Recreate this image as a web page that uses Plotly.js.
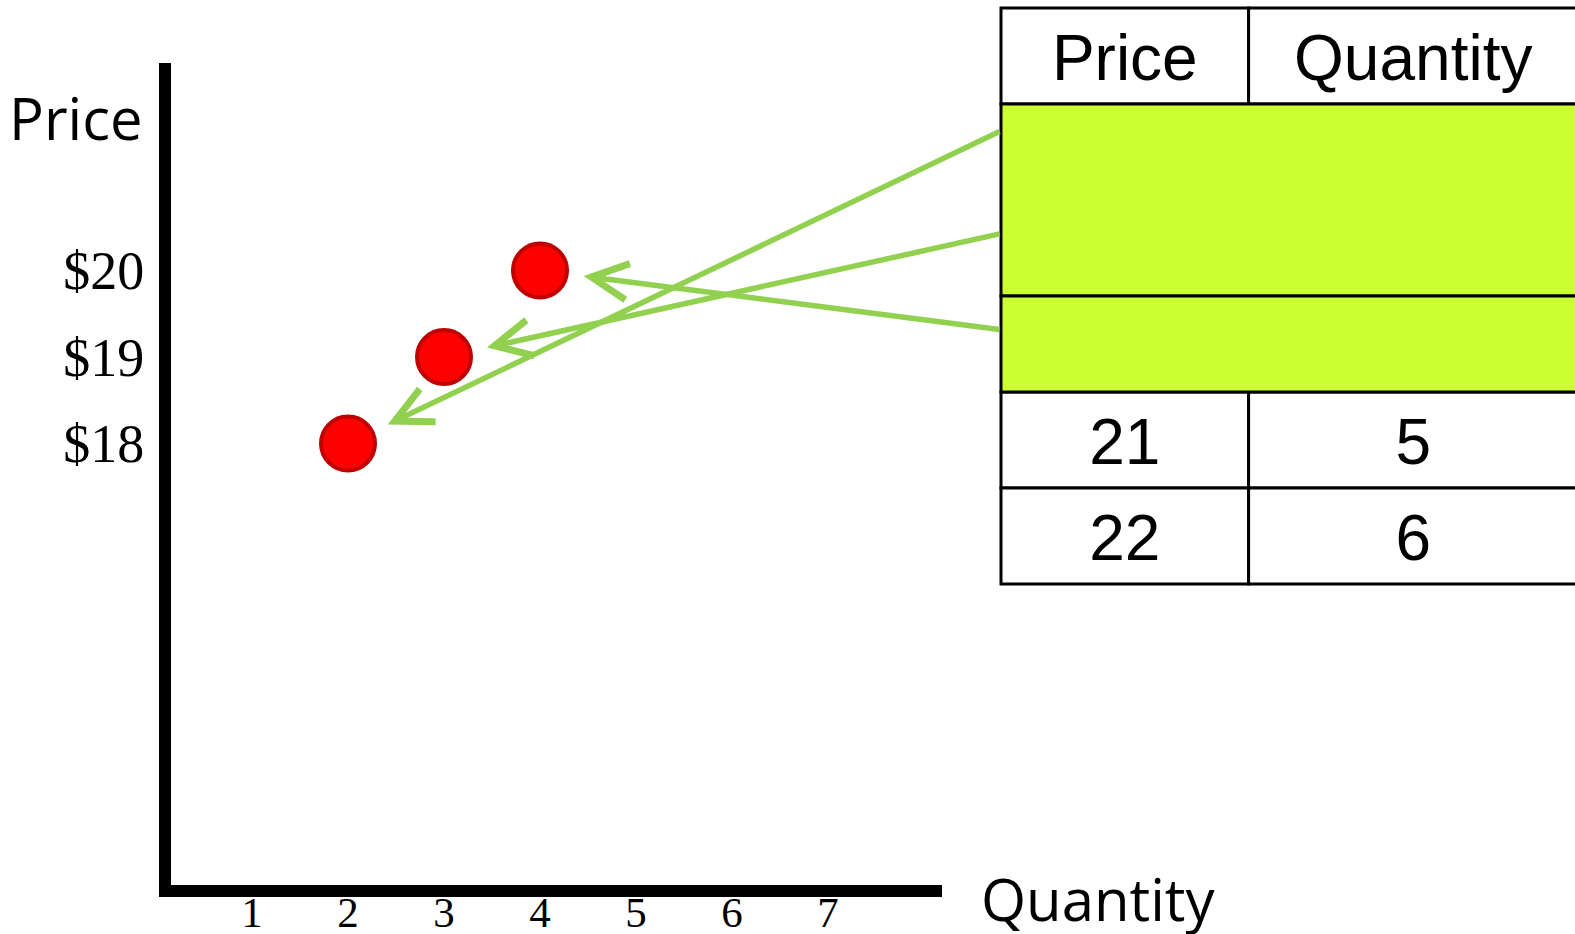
<!DOCTYPE html>
<html><head><meta charset="utf-8">
<script src="https://cdn.plot.ly/plotly-3.0.1.min.js"></script>
<style>html,body{margin:0;padding:0;background:#fff;overflow:hidden;} #chart{width:1575px;height:934px;}</style>
</head><body><div id="chart"></div>
<script>
// ---- data ----
const pointQuantity = [2, 3, 4];
const pointPrice = [18, 19, 20];
const xTickValues = [1, 2, 3, 4, 5, 6, 7];
const xTickLabels = ['1', '2', '3', '4', '5', '6', '7'];
const yTickValues = [18, 19, 20];
const yTickLabels = ['$18', '$19', '$20'];
const tableHeaders = ['Price', 'Quantity'];
const tablePrices = [21, 22];
const tableQuantities = [5, 6];
const xTitle = 'Quantity';
const yTitle = 'Price';

// ---- geometry (pixels) ----
const W = 1575, H = 934;
const PL = 171, PR = 942, PT = 63, PB = 885;
const MR = 0, MT = 0, MB = H - PB;
const paperW = W - PL - MR, paperH = H - MT - MB;
const X0 = 156, XU = 96;          // px of x=0, px per unit
const Y19 = 357, YU = 86.5;       // px of y=19, px per unit
const xInv = px => (px - X0) / XU;
const yInv = py => 19 + (Y19 - py) / YU;
// table geometry
const TL = 1001, COLW = 247.6, TT = 8, ROWH = 96;
const T2L = 990, T2B = 600;
const colEdges = [0, 1, 2.34];
const colCenters = [0.5, 1.665];
const textDrop = 0.085;
const hiddenRows = pointPrice.length;
const greenBlocks = [[1, 3], [3, 4]];
const arrowRows = [1.28, 2.35, 3.35];

const green = '#92D050';
const lime = '#CCFF33';

const shapes = [];
function cellRect(c, r0, r1, fill) {
  shapes.push({type: 'rect', xref: 'x2', yref: 'y2', layer: 'below',
    x0: colEdges[c], x1: colEdges[c + 1], y0: r0, y1: r1,
    fillcolor: fill, line: {color: '#000', width: 3}});
}
for (let c = 0; c < tableHeaders.length; c++) cellRect(c, 0, 1, '#fff');
for (let i = 0; i < tablePrices.length; i++) {
  const r = 1 + hiddenRows + i;
  cellRect(0, r, r + 1, '#fff');
  cellRect(1, r, r + 1, '#fff');
}
greenBlocks.forEach(b => shapes.push({type: 'rect', xref: 'x2', yref: 'y2', layer: 'below',
  x0: colEdges[0], x1: colEdges[2], y0: b[0], y1: b[1],
  fillcolor: lime, line: {color: '#000', width: 3}}));

const tx = [], ty = [], tt = [];
tableHeaders.forEach((h, c) => { tx.push(colCenters[c]); ty.push(0.5 + textDrop); tt.push(h); });
tablePrices.forEach((p, i) => {
  const r = 1 + hiddenRows + i + 0.5 + textDrop;
  tx.push(colCenters[0]); ty.push(r); tt.push(String(p));
  tx.push(colCenters[1]); ty.push(r); tt.push(String(tableQuantities[i]));
});

const traces = [
  {type: 'scatter', mode: 'markers', x: pointQuantity, y: pointPrice, xaxis: 'x', yaxis: 'y',
   cliponaxis: false, hoverinfo: 'skip',
   marker: {size: 54, color: '#FF0000', line: {color: '#C00000', width: 4}}},
  {type: 'scatter', mode: 'text', x: tx, y: ty, text: tt, xaxis: 'x2', yaxis: 'y2',
   textposition: 'middle center', cliponaxis: false, hoverinfo: 'skip',
   textfont: {family: 'Liberation Sans, Arial, sans-serif', size: 64, color: '#000'}}
];

const annotations = pointQuantity.map((q, i) => ({
  x: q, y: pointPrice[i], xref: 'x', yref: 'y', axref: 'x', ayref: 'y',
  ax: xInv(TL), ay: yInv(TT + ROWH * arrowRows[i]),
  text: '', showarrow: true, arrowhead: 5, arrowsize: 1.3, arrowwidth: 5.5,
  arrowcolor: green, standoff: 44
}));
annotations.push({text: yTitle, xref: 'paper', yref: 'paper', showarrow: false,
  x: (145 - PL) / paperW, y: (PB - 118) / paperH, xanchor: 'right', yanchor: 'middle',
  font: {family: 'Open Sans, Noto Sans, sans-serif', size: 58, color: '#000'}});
annotations.push({text: xTitle, xref: 'paper', yref: 'paper', showarrow: false,
  x: (979 - PL) / paperW, y: (PB - 898) / paperH, xanchor: 'left', yanchor: 'middle',
  font: {family: 'Open Sans, Noto Sans, sans-serif', size: 58, color: '#000'}});

const layout = {
  width: W, height: H,
  margin: {l: PL, r: MR, t: MT, b: MB, pad: 0},
  paper_bgcolor: '#fff', plot_bgcolor: 'rgba(0,0,0,0)',
  showlegend: false,
  xaxis: {domain: [0, (PR - PL) / paperW], range: [xInv(PL), xInv(PR)],
    showline: true, linewidth: 12, linecolor: '#000', showgrid: false, zeroline: false,
    tickmode: 'array', tickvals: xTickValues, ticktext: xTickLabels, ticks: '',
    ticklabelstandoff: -22,
    tickfont: {family: 'Liberation Serif, Times New Roman, serif', size: 43, color: '#000'},
    fixedrange: true, anchor: 'y'},
  yaxis: {domain: [0, (PB - PT) / paperH], range: [yInv(PB), yInv(PT)],
    showline: true, linewidth: 12, linecolor: '#000', showgrid: false, zeroline: false,
    tickmode: 'array', tickvals: yTickValues, ticktext: yTickLabels, ticks: '',
    ticklabelstandoff: 4,
    tickfont: {family: 'Liberation Serif, Times New Roman, serif', size: 54, color: '#000'},
    fixedrange: true, anchor: 'x'},
  xaxis2: {domain: [(T2L - PL) / paperW, 1],
    range: [(T2L - TL) / COLW, (W - TL) / COLW], visible: false, fixedrange: true, anchor: 'y2'},
  yaxis2: {domain: [(PB - T2B) / paperH, 1],
    range: [(T2B - TT) / ROWH, (0 - TT) / ROWH], visible: false, fixedrange: true, anchor: 'x2'},
  shapes: shapes,
  annotations: annotations
};

Plotly.newPlot('chart', traces, layout, {displayModeBar: false, staticPlot: true});
</script>
</body></html>
